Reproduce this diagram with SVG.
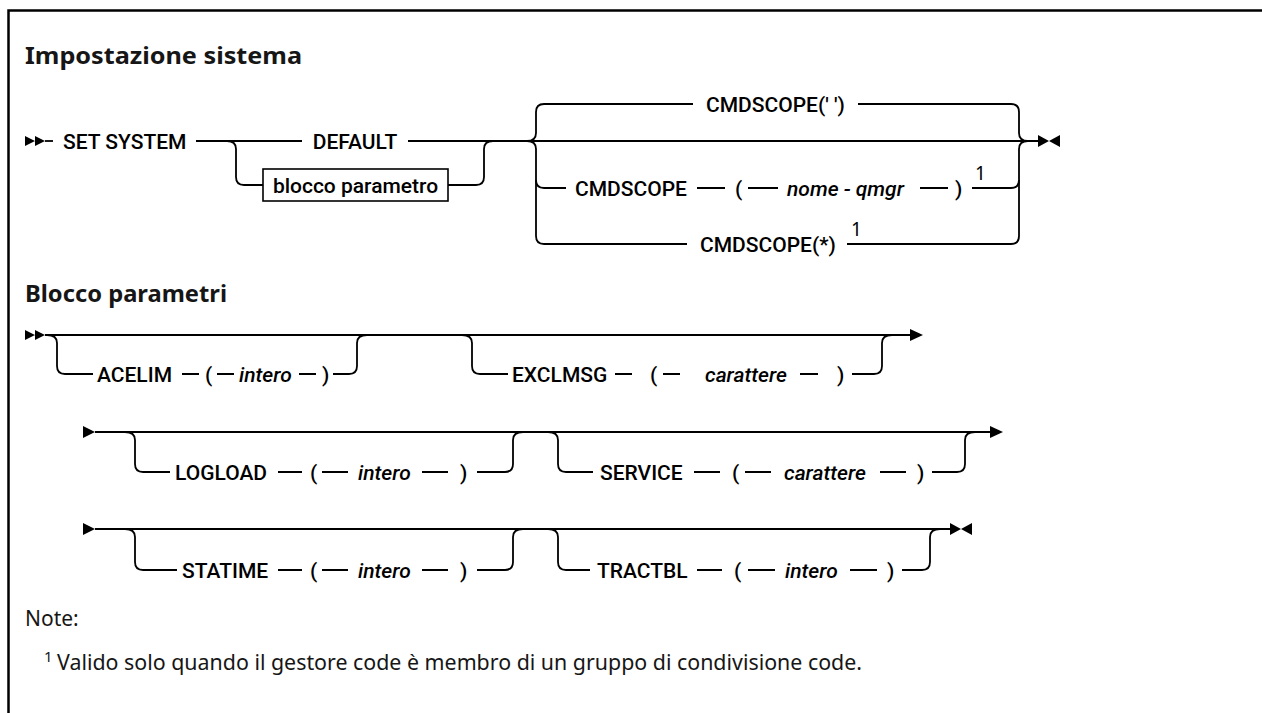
<svg xmlns="http://www.w3.org/2000/svg" xmlns:xlink="http://www.w3.org/1999/xlink" width="1262" height="713" viewBox="0 0 1262 713">
<style>
.lbl{font-family:Roboto,"Liberation Sans",sans-serif;font-size:21px;font-weight:500;fill:#000}
.var{font-style:italic}
.ln{fill:none;stroke:#000;stroke-width:1.8}
.box{fill:#fff;stroke:#000;stroke-width:1.6}
.title{font-family:"Noto Sans","Liberation Sans",sans-serif;font-weight:bold;font-size:24px;fill:#161616}
.note{font-family:"Noto Sans","Liberation Sans",sans-serif;font-size:21px;fill:#161616}
.sup{font-family:"Noto Sans","Liberation Sans",sans-serif;font-size:19px;fill:#000}
.nsup{font-family:"Noto Sans","Liberation Sans",sans-serif;font-size:15px;fill:#161616}
.frame{fill:none;stroke:#000;stroke-width:2.5}
.mk{fill:#000}
</style>
<defs>
<path id="startDbl" class="mk" d="M0,-5 L10,0 L0,5Z M10,-5 L20,0 L10,5Z"/>
<path id="startSgl" class="mk" d="M0,-6 L12,0 L0,6Z"/>
<path id="endArr" class="mk" d="M0,-6 L13,0 L0,6Z"/>
<path id="endBow" class="mk" d="M0,-6 L11,0 L0,6Z M22,-6 L11,0 L22,6Z"/>
</defs>

<path class="frame" d="M8.5,713 L8.5,10.5 L1262,10.5"/>

<text class="title" x="25" y="64" textLength="277" lengthAdjust="spacingAndGlyphs">Impostazione sistema</text>
<text class="title" x="25" y="302" textLength="202" lengthAdjust="spacingAndGlyphs">Blocco parametri</text>

<g id="connectors">
  <path class="ln" d="M45,141 L53,141"/>
  <path class="ln" d="M196,141 L302,141"/>
  <path class="ln" d="M408,141 L1040,141"/>
  <path class="ln" d="M227,141 Q236,141 236,149 L236,177 Q236,185 244,185 L263,185"/>
  <path class="ln" d="M448,185 L476,185 Q484,185 484,177 L484,149 Q484,141 493,141"/>
  <path class="ln" d="M527,141 Q536,141 536,133 L536,112 Q536,104 544,104 L693,104"/>
  <path class="ln" d="M527,141 Q536,141 536,149 L536,236 Q536,244 544,244 L687,244"/>
  <path class="ln" d="M536,180 Q536,188 544,188 L566,188"/>
  <path class="ln" d="M858,104 L1011,104 Q1019,104 1019,112 L1019,133 Q1019,141 1028,141"/>
  <path class="ln" d="M847,244 L1011,244 Q1019,244 1019,236 L1019,149 Q1019,141 1028,141"/>
  <path class="ln" d="M972,188 L1011,188 Q1019,188 1019,180"/>
  <path class="ln" d="M697,188 L725,188 M748,188 L778,188 M920,188 L948,188"/>

  <path class="ln" d="M45,335 L911,335"/>
  <path class="ln" d="M47,335 Q57,335 57,343 L57,366 Q57,374 65,374 L93,374"/>
  <path class="ln" d="M182,374 L199,374 M217,374 L234,374 M299,374 L316,374"/>
  <path class="ln" d="M333,374 L349,374 Q357,374 357,366 L357,343 Q357,335 367,335"/>
  <path class="ln" d="M462,335 Q472,335 472,343 L472,366 Q472,374 480,374 L508,374"/>
  <path class="ln" d="M615,374 L632,374 M663,374 L680,374 M800,374 L818,374"/>
  <path class="ln" d="M852,374 L874,374 Q882,374 882,366 L882,343 Q882,335 892,335"/>

  <path class="ln" d="M95,432 L991,432"/>
  <path class="ln" d="M125,432 Q135,432 135,440 L135,464 Q135,472 143,472 L170,472"/>
  <path class="ln" d="M278,472 L302,472 M322,472 L348,472 M422,472 L448,472"/>
  <path class="ln" d="M477,472 L505,472 Q513,472 513,464 L513,440 Q513,432 523,432"/>
  <path class="ln" d="M548,432 Q558,432 558,440 L558,464 Q558,472 566,472 L593,472"/>
  <path class="ln" d="M694,472 L720,472 M745,472 L771,472 M880,472 L906,472"/>
  <path class="ln" d="M932,472 L957,472 Q965,472 965,464 L965,440 Q965,432 975,432"/>

  <path class="ln" d="M95,529 L952,529"/>
  <path class="ln" d="M125,529 Q135,529 135,537 L135,562 Q135,570 143,570 L177,570"/>
  <path class="ln" d="M278,570 L302,570 M322,570 L348,570 M422,570 L448,570"/>
  <path class="ln" d="M477,570 L505,570 Q513,570 513,562 L513,537 Q513,529 523,529"/>
  <path class="ln" d="M548,529 Q558,529 558,537 L558,562 Q558,570 566,570 L590,570"/>
  <path class="ln" d="M697,570 L722,570 M748,570 L775,570 M850,570 L877,570"/>
  <path class="ln" d="M902,570 L922,570 Q930,570 930,562 L930,537 Q930,529 940,529"/>

  <use xlink:href="#startDbl" x="25" y="141"/>
  <use xlink:href="#endBow" x="1038" y="141"/>
  <use xlink:href="#startDbl" x="25" y="335"/>
  <use xlink:href="#endArr" x="910" y="335"/>
  <use xlink:href="#startSgl" x="83" y="432"/>
  <use xlink:href="#endArr" x="990" y="432"/>
  <use xlink:href="#startSgl" x="83" y="529"/>
  <use xlink:href="#endBow" x="950" y="529"/>
</g>

<g id="set-system"><text class="lbl" x="63" y="148.5">SET SYSTEM</text></g>
<g id="default"><text class="lbl" x="355" y="148.5" text-anchor="middle">DEFAULT</text></g>
<g id="blocco-parametro">
  <rect class="box" x="263" y="169" width="185" height="32"/>
  <text class="lbl" x="355.5" y="192.5" text-anchor="middle">blocco parametro</text>
</g>
<g id="cmdscope-blank"><text class="lbl" x="706" y="111.5">CMDSCOPE(' ')</text></g>
<g id="cmdscope-qmgr">
  <text class="lbl" x="575" y="195.5">CMDSCOPE</text>
  <text class="lbl" x="735" y="195.5">(</text>
  <text class="lbl var" x="787" y="195.5">nome - qmgr</text>
  <text class="lbl" x="955" y="195.5">)</text>
  <text class="sup" x="975" y="180">1</text>
</g>
<g id="cmdscope-star">
  <text class="lbl" x="700" y="251.5">CMDSCOPE(*)</text>
  <text class="sup" x="851" y="236">1</text>
</g>

<g id="acelim">
  <text class="lbl" x="97" y="381.5">ACELIM</text>
  <text class="lbl" x="205" y="381.5">(</text>
  <text class="lbl var" x="239" y="381.5">intero</text>
  <text class="lbl" x="322" y="381.5">)</text>
</g>
<g id="exclmsg">
  <text class="lbl" x="512" y="381.5">EXCLMSG</text>
  <text class="lbl" x="650" y="381.5">(</text>
  <text class="lbl var" x="705" y="381.5">carattere</text>
  <text class="lbl" x="837" y="381.5">)</text>
</g>
<g id="logload">
  <text class="lbl" x="175" y="479.5">LOGLOAD</text>
  <text class="lbl" x="310" y="479.5">(</text>
  <text class="lbl var" x="358" y="479.5">intero</text>
  <text class="lbl" x="460" y="479.5">)</text>
</g>
<g id="service">
  <text class="lbl" x="600" y="479.5">SERVICE</text>
  <text class="lbl" x="732" y="479.5">(</text>
  <text class="lbl var" x="784" y="479.5">carattere</text>
  <text class="lbl" x="917" y="479.5">)</text>
</g>
<g id="statime">
  <text class="lbl" x="182" y="577.5">STATIME</text>
  <text class="lbl" x="310" y="577.5">(</text>
  <text class="lbl var" x="358" y="577.5">intero</text>
  <text class="lbl" x="460" y="577.5">)</text>
</g>
<g id="tractbl">
  <text class="lbl" x="597" y="577.5">TRACTBL</text>
  <text class="lbl" x="734" y="577.5">(</text>
  <text class="lbl var" x="785" y="577.5">intero</text>
  <text class="lbl" x="887" y="577.5">)</text>
</g>

<g id="notes">
  <text class="note" x="25" y="626">Note:</text>
  <text class="nsup" x="44" y="662">1</text>
  <text class="note" x="57" y="670" textLength="805" lengthAdjust="spacingAndGlyphs">Valido solo quando il gestore code è membro di un gruppo di condivisione code.</text>
</g>
</svg>
